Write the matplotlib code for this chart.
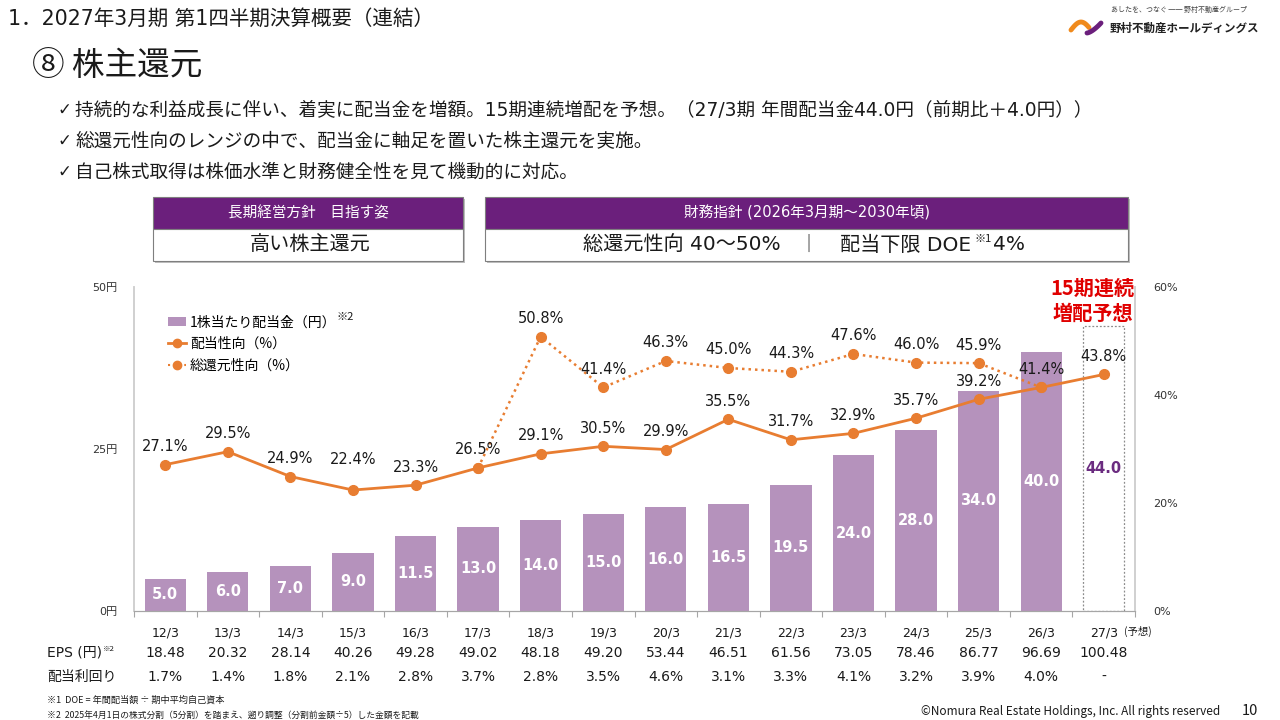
import numpy as np
import matplotlib.pyplot as plt
import matplotlib.transforms as mtransforms
from matplotlib.patches import Rectangle, Patch
from matplotlib.lines import Line2D

JP = ['Noto Sans CJK JP', 'DejaVu Sans']
NUM = ['DejaVu Sans', 'Noto Sans CJK JP']
plt.rcParams['font.family'] = NUM

# data
categories = ["12/3", "13/3", "14/3", "15/3", "16/3", "17/3", "18/3", "19/3",
              "20/3", "21/3", "22/3", "23/3", "24/3", "25/3", "26/3", "27/3"]
dividend = [5.0, 6.0, 7.0, 9.0, 11.5, 13.0, 14.0, 15.0, 16.0, 16.5, 19.5, 24.0, 28.0, 34.0, 40.0, 44.0]
payout_ratio = [27.1, 29.5, 24.9, 22.4, 23.3, 26.5, 29.1, 30.5, 29.9, 35.5, 31.7, 32.9, 35.7, 39.2, 41.4, 43.8]
total_return = [np.nan, np.nan, np.nan, np.nan, np.nan, 26.5, 50.8, 41.4, 46.3, 45.0,
                44.3, 47.6, 46.0, 45.9, 41.4, np.nan]
eps = ["18.48", "20.32", "28.14", "40.26", "49.28", "49.02", "48.18", "49.20",
       "53.44", "46.51", "61.56", "73.05", "78.46", "86.77", "96.69", "100.48"]
div_yield = ["1.7%", "1.4%", "1.8%", "2.1%", "2.8%", "3.7%", "2.8%", "3.5%",
             "4.6%", "3.1%", "3.3%", "4.1%", "3.2%", "3.9%", "4.0%", "-"]
n_forecast = 1

BAR = '#B592BC'
PURPLE = '#6B1F7C'
ORANGE = '#E87D31'
TXT = '#1A1A1A'

W, H = 1280, 720
fig = plt.figure(figsize=(12.8, 7.2), dpi=100)
fig.patch.set_facecolor('white')


def ftext(x, y, s, **kw):
    kw.setdefault('va', 'center')
    kw.setdefault('color', TXT)
    return fig.text(x / W, 1 - y / H, s, **kw)


def frect(x0, y0, x1, y1, **kw):
    r = Rectangle((x0 / W, 1 - y1 / H), (x1 - x0) / W, (y1 - y0) / H,
                  transform=fig.transFigure, **kw)
    fig.add_artist(r)
    return r


# header
ftext(8, 19, "1．2027年3月期 第1四半期決算概要（連結）", fontsize=14.8, family=NUM)
ftext(32, 66, "⑧ 株主還元", fontsize=23.5, family=JP)
bullets = ["持続的な利益成長に伴い、着実に配当金を増額。15期連続増配を予想。（27/3期 年間配当金44.0円（前期比＋4.0円））",
           "総還元性向のレンジの中で、配当金に軸足を置いた株主還元を実施。",
           "自己株式取得は株価水準と財務健全性を見て機動的に対応。"]
for i, b in enumerate(bullets):
    ftext(57, 110 + i * 31, "✓", fontsize=12, family=NUM)
    ftext(75, 110 + i * 31, b, fontsize=13.4, family=NUM)

# logo
ftext(1111, 10, "あしたを、つなぐ ── 野村不動産グループ", fontsize=5.0, family=JP, color='#444444')
ftext(1110, 28, "野村不動産ホールディングス", fontsize=8.3, family=JP, fontweight='bold', color='#222222')
t = np.linspace(0, 1, 20)
fig.add_artist(Line2D((1071 + 18 * t) / W, 1 - (30 - 8 * np.sin(np.pi * t * 0.9)) / H,
                      transform=fig.transFigure, color='#F08A1C', lw=3.5, solid_capstyle='round'))
fig.add_artist(Line2D((1087 + 14 * t) / W, 1 - (33 - 10 * t ** 1.5) / H,
                      transform=fig.transFigure, color='#6B1F7C', lw=3.5, solid_capstyle='round'))

# policy boxes
for x0, x1, head in [(153, 463, "長期経営方針　目指す姿"), (485, 1128, "財務指針 (2026年3月期～2030年頃)")]:
    frect(x0 + 2, 199, x1 + 2, 263, facecolor='#BFBFBF', edgecolor='none')
    frect(x0, 197, x1, 229, facecolor=PURPLE, edgecolor='#7F7F7F', lw=0.8)
    frect(x0, 229, x1, 261, facecolor='white', edgecolor='#7F7F7F', lw=0.8)
    ftext((x0 + x1) / 2, 213, head, fontsize=10.5, family=NUM, color='white', ha='center')
ftext(310, 245, "高い株主還元", fontsize=14.5, family=JP, ha='center')
ftext(682, 245, "総還元性向 40～50%", fontsize=14.5, family=NUM, ha='center')
ftext(808, 245, "｜", fontsize=13, family=JP, ha='center')
ftext(971, 245, "配当下限 DOE", fontsize=14.5, family=NUM, ha='right')
ftext(974, 239, "※1", fontsize=8, family=JP, ha='left')
ftext(993, 245, "4%", fontsize=14.5, family=NUM, ha='left')

# chart
ax = fig.add_axes([134 / W, 1 - 611 / H, 1001 / W, 324 / H])
ax2 = ax.twinx()
x = np.arange(len(categories))
n_act = len(categories) - n_forecast

ax.bar(x[:n_act], dividend[:n_act], width=0.66, color=BAR, zorder=2)
ax.bar(x[n_act:], dividend[n_act:], width=0.66, facecolor='none', edgecolor='#8C8C8C',
       linestyle=(0, (1.5, 1.5)), lw=0.9, zorder=2)
for i in range(len(categories)):
    col = 'white' if i < n_act else '#6B2C80'
    ax.text(x[i], dividend[i] / 2, f"{dividend[i]:.1f}", ha='center', va='center',
            color=col, fontsize=10.5, fontweight='bold', zorder=3)

ax2.plot(x, total_return, color=ORANGE, lw=1.8, linestyle=(0, (1, 1.6)), marker='o', ms=7, zorder=4)
ax2.plot(x, payout_ratio, color=ORANGE, lw=2, marker='o', ms=7, zorder=5)

for i, v in enumerate(payout_ratio):
    dy = 22 if i == 3 else 13
    ax2.annotate(f"{v:.1f}%", (x[i], v), xytext=(0, dy), textcoords='offset points',
                 ha='center', va='center', fontsize=10.5, color=TXT, zorder=6)
for i, v in enumerate(total_return):
    if np.isnan(v) or v == payout_ratio[i]:
        continue
    ax2.annotate(f"{v:.1f}%", (x[i], v), xytext=(0, 13), textcoords='offset points',
                 ha='center', va='center', fontsize=10.5, color=TXT, zorder=6)

ax.set_xlim(-0.5, len(categories) - 0.5)
ax.set_ylim(0, 50)
ax2.set_ylim(0, 60)
ax.set_yticks([0, 25, 50])
ax.set_yticklabels(["0円", "25円", "50円"])
ax2.set_yticks([0, 20, 40, 60])
ax2.set_yticklabels(["0%", "20%", "40%", "60%"])
ax.tick_params(axis='y', length=0, pad=12, labelsize=8, labelcolor='#333333')
ax2.tick_params(axis='y', length=0, pad=13, labelsize=8, labelcolor='#333333')

ax.set_xticks(x)
ax.set_xticklabels(categories)
ax.tick_params(axis='x', which='major', length=0, pad=11, labelsize=9, labelcolor=TXT)
ax.set_xticks(np.arange(-0.5, len(categories)), minor=True)
ax.tick_params(axis='x', which='minor', length=4, color='#A6A6A6', width=0.8)
for a in (ax, ax2):
    a.spines['top'].set_visible(False)
    a.spines['left'].set_color('#D0D0D0')
    a.spines['right'].set_color('#D0D0D0')
    a.spines['bottom'].set_color('#A6A6A6')
    a.spines['left'].set_linewidth(1.2)
    a.spines['right'].set_linewidth(1.2)

blend = mtransforms.blended_transform_factory(ax.transData, fig.transFigure)
ax.text(x[-1] + 0.33, 1 - 631 / H, "(予想)", transform=blend, ha='left', va='center',
        fontsize=7.5, family=JP, color=TXT)
for i in range(len(categories)):
    ax.text(x[i], 1 - 653 / H, eps[i], transform=blend, ha='center', va='center', fontsize=10, color=TXT)
    ax.text(x[i], 1 - 677 / H, div_yield[i], transform=blend, ha='center', va='center', fontsize=10, color=TXT)
ftext(47, 653, "EPS (円)", fontsize=10, family=NUM)
ftext(103, 649, "※2", fontsize=5.5, family=JP)
ftext(47, 677, "配当利回り", fontsize=10, family=JP)

ftext(1135, 288, "15期連続", fontsize=14.5, family=JP, color='#E00000', fontweight='bold', ha='right')
ftext(1133, 313, "増配予想", fontsize=14.5, family=JP, color='#E00000', fontweight='bold', ha='right')

handles = [Patch(facecolor=BAR, edgecolor='none'),
           Line2D([], [], color=ORANGE, lw=2, marker='o', ms=6),
           Line2D([], [], color=ORANGE, lw=1.5, linestyle=(0, (1, 1.6)), marker='o', ms=6)]
leg = ax2.legend(handles, ["1株当たり配当金（円）", "配当性向（%）", "総還元性向（%）"],
                 loc='upper left', bbox_to_anchor=(0.028, 0.93), frameon=False,
                 prop={'family': JP, 'size': 10}, handlelength=1.3, handletextpad=0.3,
                 labelspacing=0.55, borderaxespad=0)
fig.canvas.draw()
bb = leg.get_texts()[0].get_window_extent()
fig.text(bb.x1 / W, bb.y1 / H + 3 / H, "※2", fontsize=8, family=JP, va='top', color=TXT)

# footnotes
ftext(47, 700, "※1  DOE = 年間配当額 ÷ 期中平均自己資本", fontsize=6.6, family=JP)
ftext(47, 715, "※2  2025年4月1日の株式分割（5分割）を踏まえ、遡り調整（分割前金額÷5）した金額を記載", fontsize=6.3, family=JP)
ftext(1220, 712, "©Nomura Real Estate Holdings, Inc. All rights reserved", fontsize=8.5, ha='right', family=JP)
ftext(1258, 711, "10", fontsize=10.5, ha='right', family=JP)

fig.savefig("out.png", dpi=100)
